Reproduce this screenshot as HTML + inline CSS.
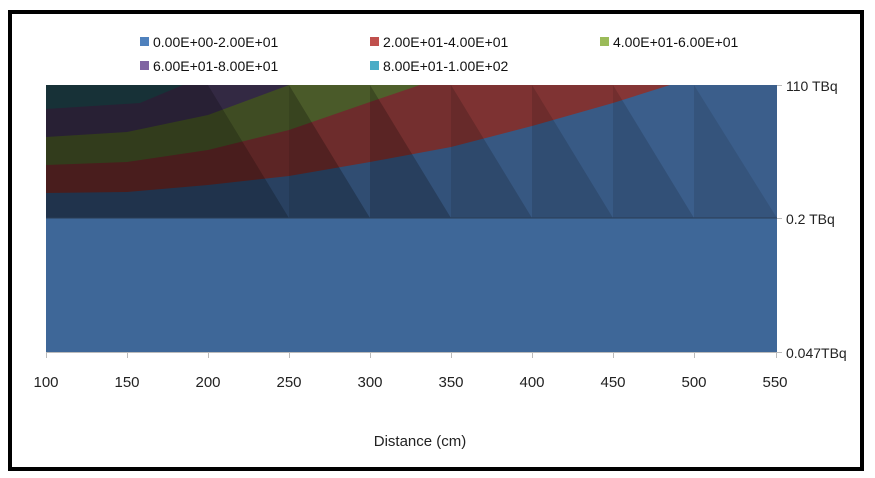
<!DOCTYPE html>
<html><head><meta charset="utf-8"><style>
html,body{margin:0;padding:0;background:#fff;}
svg{display:block;font-family:"Liberation Sans",sans-serif;}
</style></head><body>
<svg width="875" height="478" viewBox="0 0 875 478" xmlns="http://www.w3.org/2000/svg">
<rect x="0" y="0" width="875" height="478" fill="#fff"/>
<rect x="10" y="12" width="852" height="457" fill="none" stroke="#000" stroke-width="4"/>
<!-- legend -->
<g font-size="14" fill="#111">
<rect x="140" y="37" width="9" height="9" fill="#4f81bd"/><text x="153" y="47">0.00E+00-2.00E+01</text>
<rect x="370" y="37" width="9" height="9" fill="#c0504d"/><text x="383" y="47">2.00E+01-4.00E+01</text>
<rect x="600" y="37" width="9" height="9" fill="#9bbb59"/><text x="613" y="47">4.00E+01-6.00E+01</text>
<rect x="140" y="61" width="9" height="9" fill="#8064a2"/><text x="153" y="71">6.00E+01-8.00E+01</text>
<rect x="370" y="61" width="9" height="9" fill="#4bacc6"/><text x="383" y="71">8.00E+01-1.00E+02</text>
</g>
<!-- plot -->
<rect x="46" y="218" width="731" height="134" fill="#3e6798"/>
<rect x="46" y="85" width="731" height="133" fill="#2a5a64"/>
<polygon points="46,109 140,103 183,85 777,85 777,218 46,218" fill="#4a3b60"/>
<polygon points="46,137 127,132 208,115 289,85 777,85 777,218 46,218" fill="#5b6e33"/>
<polygon points="46,165 127,162 208,150 289,130 370,102 420,85 777,85 777,218 46,218" fill="#853636"/>
<polygon points="46,193 127,192 208,185 289,176 370,162 451,147 532,126 613,103 670,85 777,85 777,218 46,218" fill="#3b5e8b"/>
<!-- shading -->
<rect x="46" y="85" width="162" height="133" fill="#000" opacity="0.45"/>
<polygon points="208,85 208,218 289,218" fill="#000" opacity="0.45"/>
<polygon points="208,85 289,85 289,218" fill="#000" opacity="0.3"/>
<polygon points="289,85 289,218 370,218" fill="#000" opacity="0.38"/>
<polygon points="289,85 370,85 370,218" fill="#000" opacity="0.18"/>
<polygon points="370,85 370,218 451,218" fill="#000" opacity="0.32"/>
<polygon points="370,85 451,85 451,218" fill="#000" opacity="0.12"/>
<polygon points="451,85 451,218 532,218" fill="#000" opacity="0.22"/>
<polygon points="451,85 532,85 532,218" fill="#000" opacity="0.06"/>
<polygon points="532,85 532,218 613,218" fill="#000" opacity="0.18"/>
<polygon points="532,85 613,85 613,218" fill="#000" opacity="0.04"/>
<polygon points="613,85 613,218 694,218" fill="#000" opacity="0.14"/>
<polygon points="694,85 694,218 777,218" fill="#000" opacity="0.1"/>
<line x1="46" y1="218" x2="777" y2="218" stroke="#2a3d55" stroke-width="1"/>
<!-- axes -->
<line x1="46" y1="352.5" x2="777" y2="352.5" stroke="#bbb"/>
<g stroke="#bbb">
<line x1="46.5" y1="352" x2="46.5" y2="358"/><line x1="127.5" y1="352" x2="127.5" y2="358"/><line x1="208.5" y1="352" x2="208.5" y2="358"/><line x1="289.5" y1="352" x2="289.5" y2="358"/><line x1="370.5" y1="352" x2="370.5" y2="358"/><line x1="451.5" y1="352" x2="451.5" y2="358"/><line x1="532.5" y1="352" x2="532.5" y2="358"/><line x1="613.5" y1="352" x2="613.5" y2="358"/><line x1="694.5" y1="352" x2="694.5" y2="358"/><line x1="776.5" y1="352" x2="776.5" y2="358"/>
<line x1="777" y1="85.5" x2="782" y2="85.5"/><line x1="777" y1="218.5" x2="782" y2="218.5"/><line x1="777" y1="352.5" x2="782" y2="352.5"/>
</g>
<g font-size="15" fill="#222" text-anchor="middle">
<text x="46" y="387">100</text><text x="127" y="387">150</text><text x="208" y="387">200</text><text x="289" y="387">250</text><text x="370" y="387">300</text><text x="451" y="387">350</text><text x="532" y="387">400</text><text x="613" y="387">450</text><text x="694" y="387">500</text><text x="775" y="387">550</text>
</g>
<g font-size="14" fill="#222">
<text x="786" y="91">110 TBq</text>
<text x="786" y="224">0.2 TBq</text>
<text x="786" y="358">0.047TBq</text>
</g>
<text x="420" y="446" font-size="15" fill="#222" text-anchor="middle">Distance (cm)</text>
</svg>
</body></html>
